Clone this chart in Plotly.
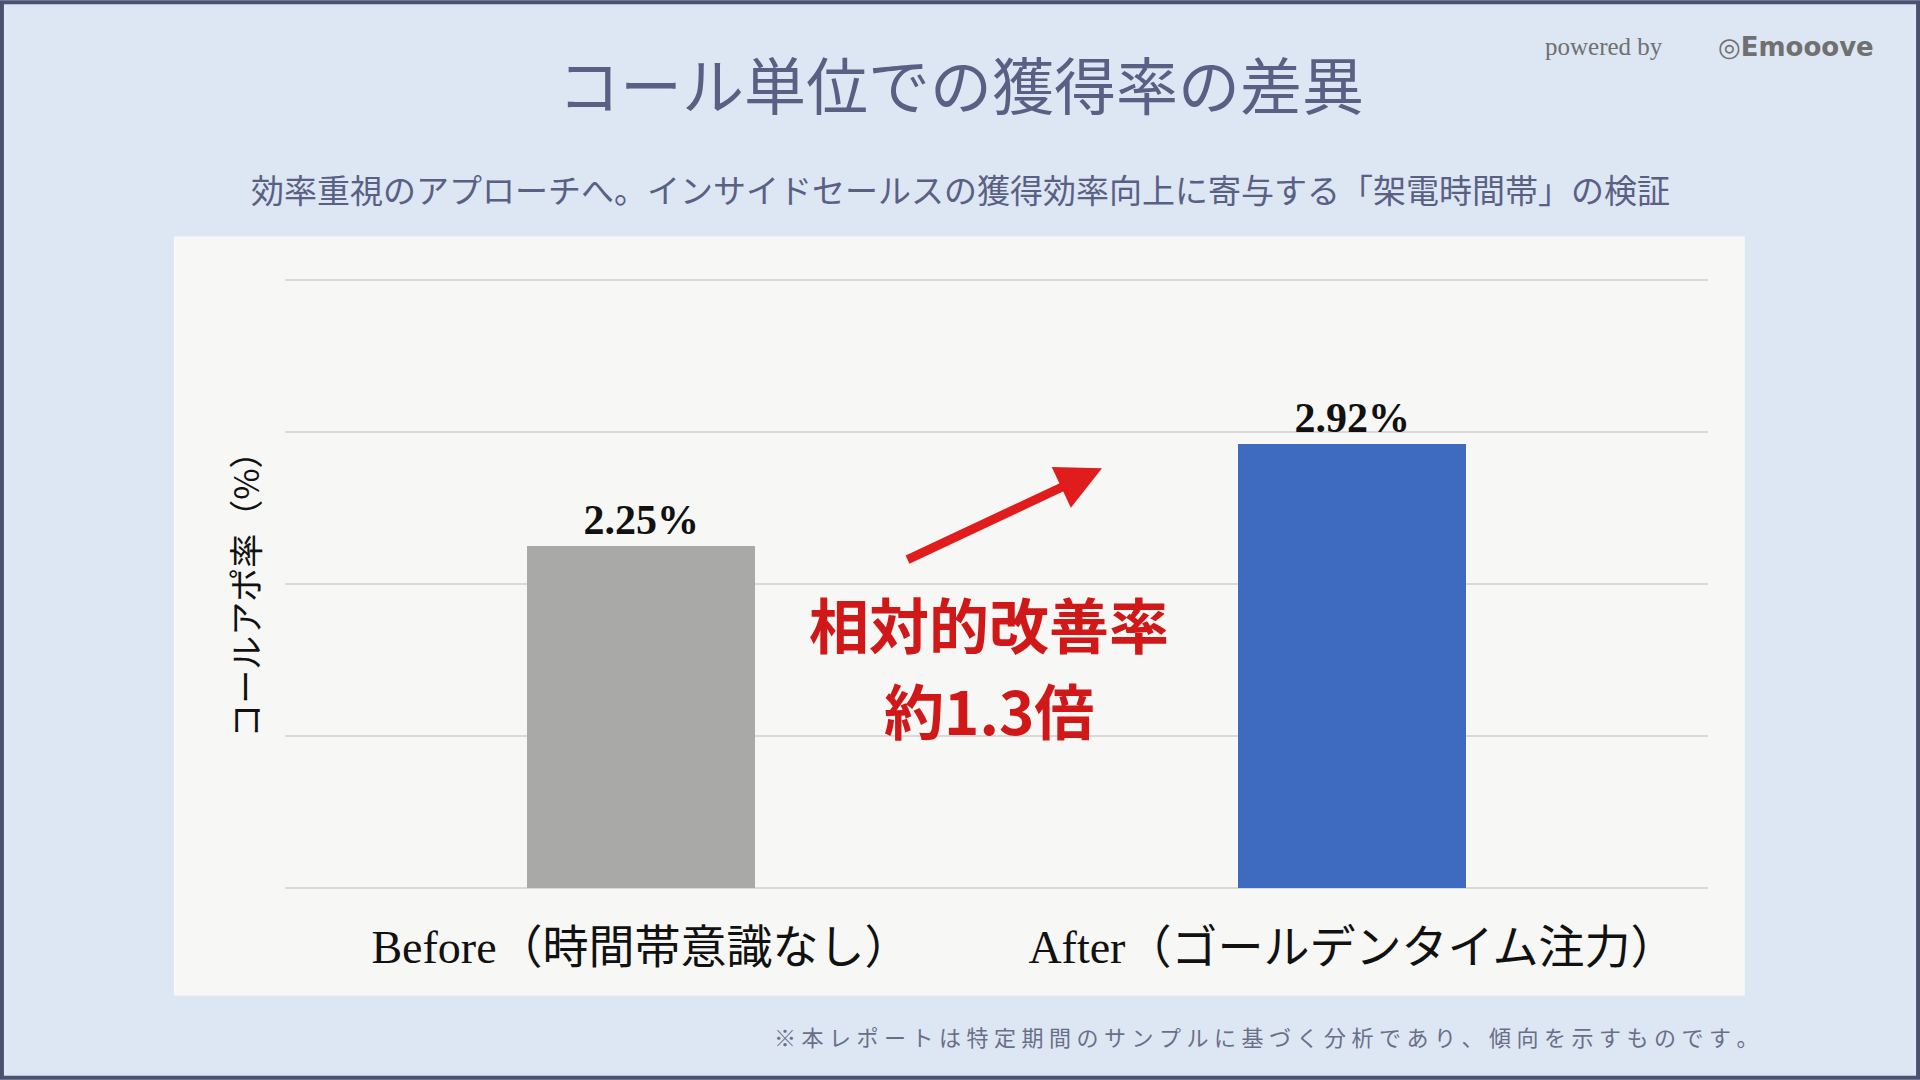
import plotly.graph_objects as go

# data
categories = ["Before（時間帯意識なし）", "After（ゴールデンタイム注力）"]
values = [2.25, 2.92]
value_labels = ["<b>2.25%</b>", "<b>2.92%</b>"]
bar_colors = ["#a9a9a7", "#3e6bc0"]

W, H = 1568, 881  # reference layout units
def px(x): return x / W
def py(y): return 1 - y / H

JP = "Noto Sans CJK JP"
SERIF = "Liberation Serif, Noto Sans CJK JP"

fig = go.Figure()
fig.add_trace(go.Bar(
    x=[0, 1], y=values, width=0.32,
    marker=dict(color=bar_colors, line=dict(width=0)),
    text=value_labels, textposition="outside",
    textfont=dict(family=SERIF, size=42, color="#111111"),
    cliponaxis=False, showlegend=False,
))

fig.update_layout(
    width=1920, height=1080,
    margin=dict(l=0, r=0, t=0, b=0),
    paper_bgcolor="#dde6f3", plot_bgcolor="rgba(0,0,0,0)",
    bargap=0,
    xaxis=dict(domain=[px(233), px(1395)], range=[-0.5, 1.5],
               tickvals=[0, 1], ticktext=categories, showgrid=False,
               zeroline=False, showline=False, ticks="", ticklen=0,
               ticklabelstandoff=26,
               tickfont=dict(family=SERIF, size=46, color="#111111")),
    yaxis=dict(domain=[py(726), py(227)], range=[-0.01, 4.01], tickvals=[0, 1, 2, 3, 4],
               showticklabels=False, gridcolor="#d9d9d9", gridwidth=2,
               zeroline=False, showline=False),
    shapes=[
        dict(type="rect", xref="paper", yref="paper", x0=px(142), x1=px(1425),
             y0=py(812), y1=py(193), fillcolor="#f7f7f5", line=dict(width=0), layer="below"),
        dict(type="rect", xref="paper", yref="paper", x0=0.001, x1=0.999,
             y0=0.002, y1=0.998, line=dict(color="#4a5070", width=4)),
    ],
)

footer = "※本レポートは特定期間のサンプルに基づく分析であり、傾向を示すものです。"
ann = [
    dict(text="コール単位での獲得率の差異", x=px(785), y=py(68), size=62, color="#5a6084", family=JP),
    dict(text="効率重視のアプローチへ。インサイドセールスの獲得効率向上に寄与する「架電時間帯」の検証",
         x=px(784), y=py(154), size=33, color="#5a6084", family=JP),
    dict(text="\u2005".join(footer), x=px(1034), y=py(845), size=22, color="#6a6f88", family=JP),
    dict(text="powered by", x=px(1310), y=py(38), size=25, color="#707070", family=SERIF),
    dict(text="<b>◎Emooove</b>", x=px(1467), y=py(38), size=26, color="#707070", family="DejaVu Sans"),
    dict(text="<b>相対的改善率</b>", x=px(808), y=py(508), size=60, color="#d01818", family=JP),
    dict(text="<b>約1.3倍</b>", x=px(808), y=py(578), size=60, color="#d01818", family=JP),
    dict(text="コールアポ率（%）", x=px(200), y=py(478), size=34, color="#111111", family=JP, textangle=-90),
]
for a in ann:
    fig.add_annotation(xref="paper", yref="paper", x=a["x"], y=a["y"], text=a["text"],
                       showarrow=False, xanchor="center", yanchor="middle",
                       textangle=a.get("textangle", 0),
                       font=dict(family=a["family"], size=a["size"], color=a["color"]))

fig.add_annotation(xref="paper", yref="paper", x=px(900), y=py(382), text="",
                   showarrow=True, arrowhead=2, arrowsize=1, arrowwidth=9,
                   arrowcolor="#e01c1c", ax=-196, ay=92)

fig.write_html("out.html", config={"displayModeBar": False},
               post_script="document.body.style.margin='0';document.body.style.overflow='hidden';")
